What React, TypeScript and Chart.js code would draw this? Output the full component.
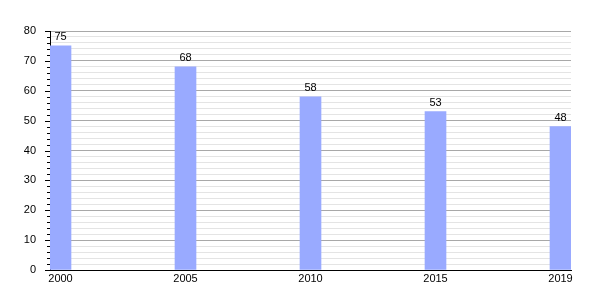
import React, { useEffect, useRef } from "react";
import { Chart, registerables } from "chart.js";

Chart.register(...registerables);

const years = ["2000", "2005", "2010", "2015", "2019"];
const values = [75, 68, 58, 53, 48];
const yMin = 0;
const yMax = 80;
const yMinorStep = 2;
const yMajorStep = 10;

const FONT = "'Liberation Sans', Arial, Helvetica, sans-serif";

const extrasPlugin = {
  id: "extras",
  afterDatasetsDraw(chart: any) {
    const ctx = chart.ctx;
    const meta = chart.getDatasetMeta(0);
    ctx.save();
    ctx.fillStyle = "#000";
    ctx.font = `11px ${FONT}`;
    ctx.textAlign = "center";
    ctx.textBaseline = "bottom";
    meta.data.forEach((bar: any, i: number) => {
      ctx.fillText(String(values[i]), bar.x, bar.y - 3);
    });
    // y-axis tick marks
    const y = chart.scales.y;
    const left = chart.chartArea.left;
    ctx.strokeStyle = "#000";
    ctx.lineWidth = 1;
    for (let v = yMin; v <= yMax; v += yMinorStep) {
      const py = Math.round(y.getPixelForValue(v)) + 0.5;
      const len = v % yMajorStep === 0 ? 5 : 3;
      ctx.beginPath();
      ctx.moveTo(left - len, py);
      ctx.lineTo(left, py);
      ctx.stroke();
    }
    ctx.restore();
  },
};

export default function App() {
  const ref = useRef<HTMLCanvasElement | null>(null);
  useEffect(() => {
    if (!ref.current) return;
    const chart = new Chart(ref.current, {
      type: "bar",
      data: {
        datasets: [
          {
            data: values.map((v, i) => ({ x: i, y: v })),
            backgroundColor: "#99aaff",
            borderWidth: 0,
            barThickness: 21,
          },
        ],
      },
      options: {
        animation: false,
        responsive: false,
        maintainAspectRatio: false,
        layout: { padding: { top: 31, right: 29, left: 0, bottom: 0 } },
        plugins: { legend: { display: false }, tooltip: { enabled: false } },
        scales: {
          x: {
            type: "linear",
            offset: false,
            min: -0.084,
            max: 4.084,
            afterBuildTicks: (s: any) => {
              s.ticks = years.map((_, i) => ({ value: i }));
            },
            afterFit: (s: any) => {
              s.height = 30;
            },
            ticks: {
              callback: (v: any) => years[v as number] ?? "",
              autoSkip: false,
              maxRotation: 0,
              color: "#000",
              font: { size: 11, family: FONT },
              padding: 2,
            },
            grid: { display: false, drawTicks: false, tickLength: 0, offset: false },
            border: { display: true, color: "#000", width: 1 },
          },
          y: {
            min: yMin,
            max: yMax,
            afterFit: (s: any) => {
              s.width = 50;
            },
            ticks: {
              stepSize: yMinorStep,
              autoSkip: false,
              callback: (v: any) => ((v as number) % yMajorStep === 0 ? String(v) : ""),
              color: "#000",
              font: { size: 11, family: FONT },
              padding: 14,
            },
            grid: {
              drawTicks: false,
              color: (c: any) => ((c.tick?.value ?? 0) % yMajorStep === 0 ? "#a8a8a8" : "#e4e4e4"),
              lineWidth: 1,
            },
            border: { display: true, color: "#000", width: 1 },
          },
        },
      },
      plugins: [extrasPlugin],
    });
    return () => chart.destroy();
  }, []);
  return (
    <div style={{ position: "fixed", left: 0, top: 0, width: 600, height: 300, background: "#fff" }}>
      <canvas ref={ref} width={600} height={300} />
    </div>
  );
}
